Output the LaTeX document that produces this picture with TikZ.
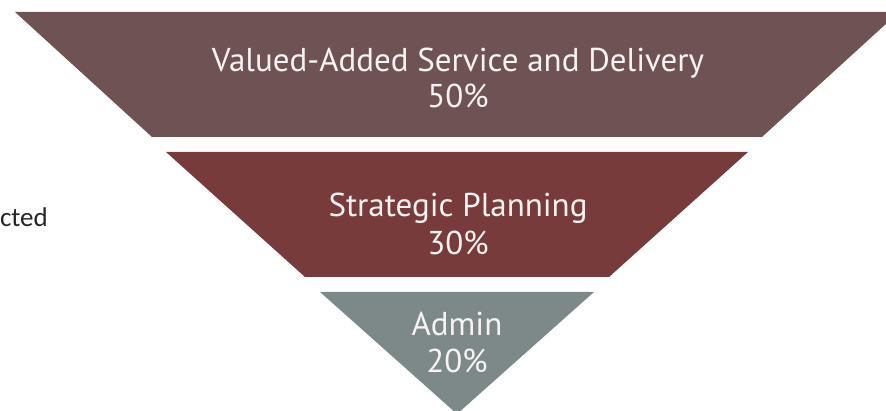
\documentclass[tikz,border=0pt]{standalone}
\usepackage{fontspec}
\usepackage{tikz}
\usepackage{xcolor}
\usetikzlibrary{positioning, calc}

\newfontfamily\layerfont{PT Sans}
\newfontfamily\sidefont{Carlito}

\definecolor{valuebrown}{HTML}{6F5253}
\definecolor{planred}{HTML}{773B3C}
\definecolor{admingrey}{HTML}{7D8988}
\definecolor{labelwhite}{HTML}{F7F3F3}

\begin{document}
\begin{tikzpicture}[
    x=1pt, y=-1pt,
    % Funnel layer styles
    layer/.style={draw=none},
    valuelayer/.style={layer, fill=valuebrown},
    planlayer/.style={layer, fill=planred},
    adminlayer/.style={layer, fill=admingrey},
    % Label styles
    layerlabel/.style={font=\layerfont\fontsize{33}{38}\selectfont, text=labelwhite, inner sep=0pt, anchor=base},
    sidelabel/.style={font=\sidefont\fontsize{27}{32}\selectfont, text=black!85, inner sep=0pt, anchor=base east}
]
\useasboundingbox (0,0) rectangle (886,411);

% Top layer
\coordinate (value_tl) at (15,12);
\coordinate (value_tr) at (899,12);
\coordinate (value_br) at (762,137);
\coordinate (value_bl) at (152,137);
\fill[valuelayer] (value_tl) -- (value_tr) -- (value_br) -- (value_bl) -- cycle;

% Middle layer
\coordinate (plan_tl) at (166,152);
\coordinate (plan_tr) at (748,152);
\coordinate (plan_br) at (609,277);
\coordinate (plan_bl) at (305,277);
\fill[planlayer] (plan_tl) -- (plan_tr) -- (plan_br) -- (plan_bl) -- cycle;

% Bottom layer
\coordinate (admin_tl) at (320,292);
\coordinate (admin_tr) at (594,292);
\coordinate (admin_tip) at (457,414);
\fill[adminlayer] (admin_tl) -- (admin_tr) -- (admin_tip) -- cycle;

% Labels
\node[layerlabel] (value_name) at (458,72) {Valued-Added Service and Delivery};
\node[layerlabel] (value_share) at (458,108) {50\%};
\node[layerlabel] (plan_name) at (458,217) {Strategic Planning};
\node[layerlabel] (plan_share) at (458,255) {30\%};
\node[layerlabel] (admin_name) at (457,336) {Admin};
\node[layerlabel] (admin_share) at (457,373) {20\%};

% Cut-off side text
\node[sidelabel] (side_text) at (48,227) {cted};

\end{tikzpicture}
\end{document}
